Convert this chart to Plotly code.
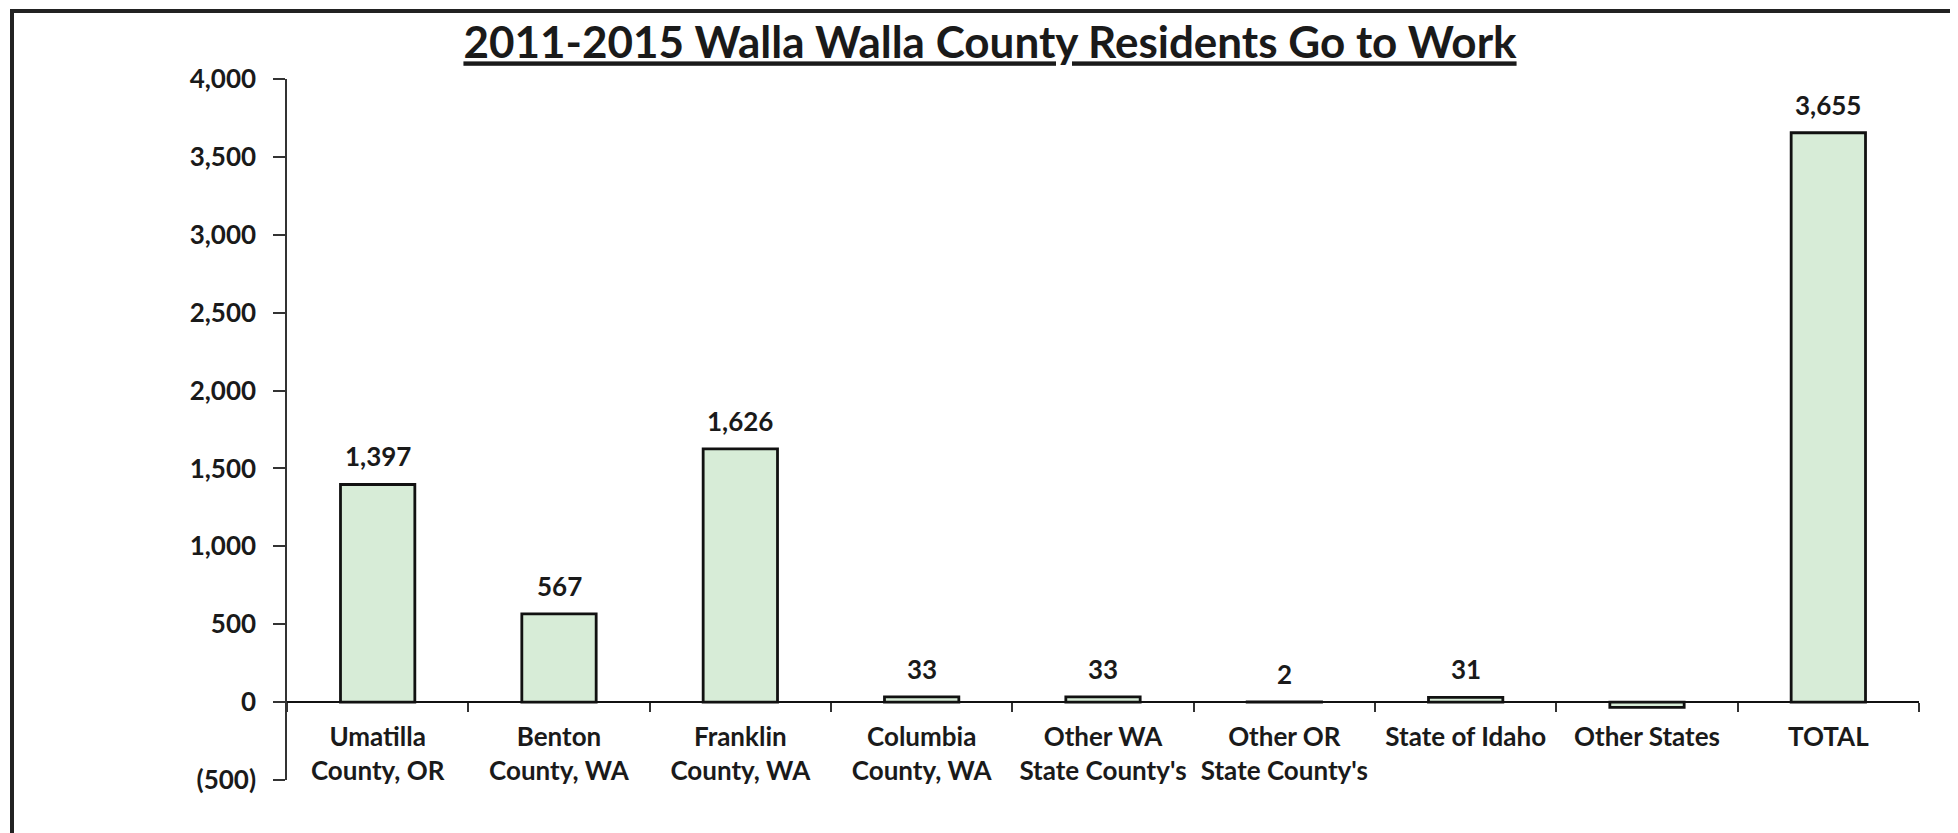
import plotly.graph_objects as go

categories = ["Umatilla<br>County, OR", "Benton<br>County, WA", "Franklin<br>County, WA",
              "Columbia<br>County, WA", "Other WA<br>State County's", "Other OR<br>State County's",
              "State of Idaho", "Other States", "TOTAL"]
values = [1397, 567, 1626, 33, 33, 2, 31, -34, 3655]
ytick_vals = [-500, 0, 500, 1000, 1500, 2000, 2500, 3000, 3500, 4000]
ytick_text = ["(500)", "0", "500", "1,000", "1,500", "2,000", "2,500", "3,000", "3,500", "4,000"]
title_text = "2011-2015 Walla Walla County Residents Go to Work"

W, H = 1958, 833
OFF = 8  # page body margin offset
# target screen positions (pixels)
PL, PR, PT, PB = 287, 1919, 79, 780
ML, MT = PL - OFF, PT - OFF
MR, MB = W - (PR - OFF), H - (PB - OFF)
PW, PH = W - ML - MR, H - MT - MB

def px(x):
    return (x - OFF - ML) / PW

def py(y):
    return (H - MB - (y - OFF)) / PH

FONT = "Lato"
TXT = "#1a1a1a"
FS = 26

fig = go.Figure()
fig.add_trace(go.Bar(
    x=categories, y=values,
    marker=dict(color="#d7ecd7", line=dict(color="#111111", width=2.8)),
    hoverinfo="x+y",
))

for c, v in zip(categories, values):
    if v > 0:
        fig.add_annotation(x=c, y=v, xref="x", yref="y", text=f"<b>{v:,}</b>",
                           showarrow=False, yanchor="middle", yshift=28,
                           font=dict(family=FONT, size=FS, color=TXT))

ymin, ymax = ytick_vals[0], ytick_vals[-1]
fig.update_layout(
    width=W, height=H,
    margin=dict(l=ML, r=MR, t=MT, b=MB),
    paper_bgcolor="white", plot_bgcolor="white",
    showlegend=False,
    bargap=0.59,
    title=dict(text=f"<b>{title_text}</b>", x=(990 - OFF) / W, xanchor="center", xref="container",
               y=1 - (43 - OFF) / H, yanchor="middle", yref="container",
               font=dict(family=FONT, size=44, color=TXT, lineposition="under")),
    yaxis=dict(range=[ymin, ymax], tickvals=ytick_vals, ticktext=ytick_text,
               showline=True, linecolor="#333333", linewidth=1.5,
               ticks="outside", ticklen=12, tickcolor="#333333", tickwidth=1.5,
               ticklabelstandoff=12,
               showgrid=False, zeroline=False,
               tickfont=dict(family=FONT, size=FS, color=TXT, weight="bold"),
               fixedrange=True),
    xaxis=dict(anchor="free", position=(0 - ymin) / (ymax - ymin),
               showline=True, linecolor="#111111", linewidth=2,
               ticks="outside", tickson="boundaries", ticklen=9, tickcolor="#333333", tickwidth=1.5,
               ticklabelstandoff=12,
               showgrid=False, zeroline=False,
               tickfont=dict(family=FONT, size=FS, color=TXT, weight="bold"),
               fixedrange=True),
    shapes=[
        dict(type="rect", xref="paper", yref="paper", x0=px(0), x1=px(W + 20), y0=py(-10), y1=py(3),
             fillcolor="#e6dc2c", line=dict(width=0), layer="above"),
        dict(type="line", xref="paper", yref="paper", x0=px(0), x1=px(W + 20), y0=py(4), y1=py(4),
             line=dict(color="#333333", width=1.5)),
        dict(type="rect", xref="paper", yref="paper", x0=px(12), x1=px(1955), y0=py(11), y1=py(H + 20),
             line=dict(color="#222222", width=4), fillcolor="rgba(0,0,0,0)"),
    ],
)

fig.write_html("out.html")
